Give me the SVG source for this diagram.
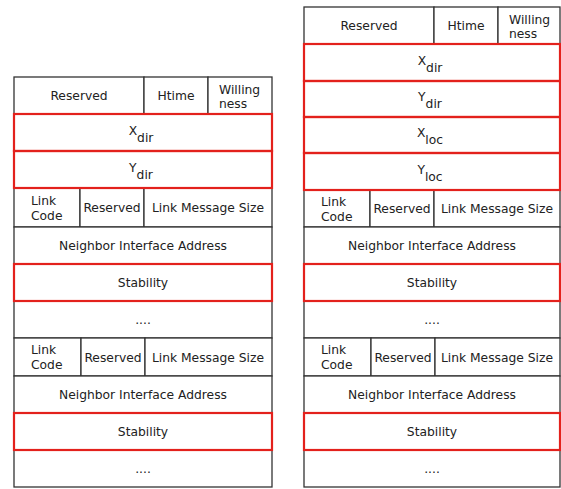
<svg xmlns="http://www.w3.org/2000/svg" width="561" height="489" viewBox="0 0 561 489">
  <style>
    .cell { fill: #ffffff; stroke: #333333; stroke-width: 1.3; }
    .hl { fill: none; stroke: #e3211c; stroke-width: 2.2; }
    .t { font-family: "DejaVu Sans", "Noto Sans", sans-serif; font-size: 12.3px; fill: #222222; text-anchor: middle; }
    .l { text-anchor: start; }
  </style>
  <rect width="561" height="489" fill="#ffffff"/>

  <!-- Left packet format -->
  <g id="left-packet">
    <g id="left-header">
      <rect class="cell" x="14" y="77" width="130" height="37"/>
      <rect class="cell" x="144" y="77" width="64" height="37"/>
      <rect class="cell" x="208" y="77" width="64" height="37"/>
      <text class="t" x="79" y="100">Reserved</text>
      <text class="t" x="176" y="100">Htime</text>
      <text class="t l" x="219" y="94">Willing</text>
      <text class="t l" x="219" y="108">ness</text>
    </g>
    <g id="left-xdir">
      <rect class="cell" x="14" y="114" width="258" height="37"/>
      <text class="t" x="141" y="135">X<tspan dy="7">dir</tspan></text>
    </g>
    <g id="left-ydir">
      <rect class="cell" x="14" y="151" width="258" height="37"/>
      <text class="t" x="141" y="172">Y<tspan dy="7">dir</tspan></text>
    </g>
    <g id="left-link-1">
      <rect class="cell" x="14" y="188" width="66" height="39"/>
      <rect class="cell" x="80" y="188" width="64" height="39"/>
      <rect class="cell" x="144" y="188" width="128" height="39"/>
      <text class="t l" x="31" y="205">Link</text>
      <text class="t l" x="31" y="220">Code</text>
      <text class="t" x="112" y="212">Reserved</text>
      <text class="t" x="208" y="212">Link Message Size</text>
    </g>
    <g id="left-neighbor-1">
      <rect class="cell" x="14" y="227" width="258" height="37"/>
      <text class="t" x="143" y="250">Neighbor Interface Address</text>
    </g>
    <g id="left-stability-1">
      <rect class="cell" x="14" y="264" width="258" height="37"/>
      <text class="t" x="143" y="287">Stability</text>
    </g>
    <g id="left-more-1">
      <rect class="cell" x="14" y="301" width="258" height="37"/>
      <text class="t" x="143" y="324">....</text>
    </g>
    <g id="left-link-2">
      <rect class="cell" x="14" y="338" width="67" height="38"/>
      <rect class="cell" x="81" y="338" width="64" height="38"/>
      <rect class="cell" x="145" y="338" width="127" height="38"/>
      <text class="t l" x="31" y="354">Link</text>
      <text class="t l" x="31" y="369">Code</text>
      <text class="t" x="113" y="362">Reserved</text>
      <text class="t" x="208" y="362">Link Message Size</text>
    </g>
    <g id="left-neighbor-2">
      <rect class="cell" x="14" y="376" width="258" height="37"/>
      <text class="t" x="143" y="399">Neighbor Interface Address</text>
    </g>
    <g id="left-stability-2">
      <rect class="cell" x="14" y="413" width="258" height="37"/>
      <text class="t" x="143" y="436">Stability</text>
    </g>
    <g id="left-more-2">
      <rect class="cell" x="14" y="450" width="258" height="37"/>
      <text class="t" x="143" y="473">....</text>
    </g>
    <!-- highlighted fields -->
    <rect class="hl" x="14" y="114" width="258" height="37"/>
    <rect class="hl" x="14" y="151" width="258" height="37"/>
    <rect class="hl" x="14" y="264" width="258" height="37"/>
    <rect class="hl" x="14" y="413" width="258" height="37"/>
  </g>

  <!-- Right packet format -->
  <g id="right-packet">
    <g id="right-header">
      <rect class="cell" x="304" y="7" width="130" height="37"/>
      <rect class="cell" x="434" y="7" width="64" height="37"/>
      <rect class="cell" x="498" y="7" width="62" height="37"/>
      <text class="t" x="369" y="30">Reserved</text>
      <text class="t" x="466" y="30">Htime</text>
      <text class="t l" x="509" y="24">Willing</text>
      <text class="t l" x="509" y="38">ness</text>
    </g>
    <g id="right-xdir">
      <rect class="cell" x="304" y="44" width="256" height="37"/>
      <text class="t" x="430" y="65">X<tspan dy="7">dir</tspan></text>
    </g>
    <g id="right-ydir">
      <rect class="cell" x="304" y="81" width="256" height="36"/>
      <text class="t" x="430" y="101">Y<tspan dy="7">dir</tspan></text>
    </g>
    <g id="right-xloc">
      <rect class="cell" x="304" y="117" width="256" height="36"/>
      <text class="t" x="430" y="137">X<tspan dy="7">loc</tspan></text>
    </g>
    <g id="right-yloc">
      <rect class="cell" x="304" y="153" width="256" height="37"/>
      <text class="t" x="430" y="174">Y<tspan dy="7">loc</tspan></text>
    </g>
    <g id="right-link-1">
      <rect class="cell" x="304" y="190" width="66" height="37"/>
      <rect class="cell" x="370" y="190" width="64" height="37"/>
      <rect class="cell" x="434" y="190" width="126" height="37"/>
      <text class="t l" x="321" y="206">Link</text>
      <text class="t l" x="321" y="221">Code</text>
      <text class="t" x="402" y="213">Reserved</text>
      <text class="t" x="497" y="213">Link Message Size</text>
    </g>
    <g id="right-neighbor-1">
      <rect class="cell" x="304" y="227" width="256" height="37"/>
      <text class="t" x="432" y="250">Neighbor Interface Address</text>
    </g>
    <g id="right-stability-1">
      <rect class="cell" x="304" y="264" width="256" height="37"/>
      <text class="t" x="432" y="287">Stability</text>
    </g>
    <g id="right-more-1">
      <rect class="cell" x="304" y="301" width="256" height="37"/>
      <text class="t" x="432" y="324">....</text>
    </g>
    <g id="right-link-2">
      <rect class="cell" x="304" y="338" width="67" height="38"/>
      <rect class="cell" x="371" y="338" width="64" height="38"/>
      <rect class="cell" x="435" y="338" width="125" height="38"/>
      <text class="t l" x="321" y="354">Link</text>
      <text class="t l" x="321" y="369">Code</text>
      <text class="t" x="403" y="362">Reserved</text>
      <text class="t" x="497" y="362">Link Message Size</text>
    </g>
    <g id="right-neighbor-2">
      <rect class="cell" x="304" y="376" width="256" height="37"/>
      <text class="t" x="432" y="399">Neighbor Interface Address</text>
    </g>
    <g id="right-stability-2">
      <rect class="cell" x="304" y="413" width="256" height="37"/>
      <text class="t" x="432" y="436">Stability</text>
    </g>
    <g id="right-more-2">
      <rect class="cell" x="304" y="450" width="256" height="37"/>
      <text class="t" x="432" y="473">....</text>
    </g>
    <!-- highlighted fields -->
    <rect class="hl" x="304" y="44" width="256" height="37"/>
    <rect class="hl" x="304" y="81" width="256" height="36"/>
    <rect class="hl" x="304" y="117" width="256" height="36"/>
    <rect class="hl" x="304" y="153" width="256" height="37"/>
    <rect class="hl" x="304" y="264" width="256" height="37"/>
    <rect class="hl" x="304" y="413" width="256" height="37"/>
  </g>
</svg>
